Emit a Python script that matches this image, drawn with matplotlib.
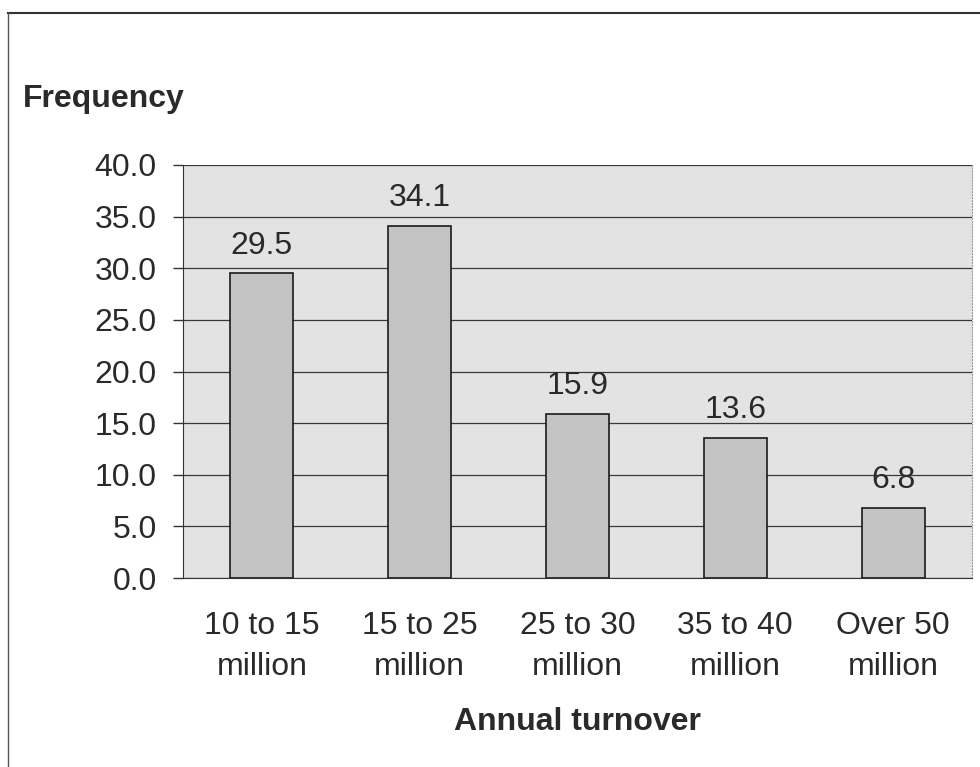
import matplotlib
matplotlib.use('Agg')
from matplotlib import pyplot as plt
from matplotlib.lines import Line2D
import numpy as np

# Data
categories = ['10 to 15\nmillion', '15 to 25\nmillion', '25 to 30\nmillion',
              '35 to 40\nmillion', 'Over 50\nmillion']
frequency = [29.5, 34.1, 15.9, 13.6, 6.8]
y_ticks = [0, 5, 10, 15, 20, 25, 30, 35, 40]

plt.rcParams['font.family'] = ['Liberation Sans', 'DejaVu Sans']
text_col = '#2a2a2a'
fs = 23

fig = plt.figure(figsize=(9.8, 7.67), dpi=100)
ax = fig.add_axes([183 / 980, 1 - 578 / 767, 789 / 980, 413 / 767])
ax.set_facecolor('#e3e3e3')

x = np.arange(len(categories))
bars = ax.bar(x, frequency, width=0.4, color='#c3c3c3', edgecolor='#1a1a1a',
              linewidth=1.2, zorder=3)
for xi, v in zip(x, frequency):
    ax.annotate('{:.1f}'.format(v), (xi, v), xytext=(0, 9), textcoords='offset points',
                ha='center', va='bottom', fontsize=fs, color=text_col)

ax.set_xlim(-0.5, len(categories) - 0.5)
ax.set_ylim(0, 40)
ax.set_yticks(y_ticks)
ax.set_yticklabels(['{:.1f}'.format(t) for t in y_ticks])
ax.yaxis.grid(True, color='#3a3a3a', linewidth=0.9, zorder=1)
ax.set_axisbelow(True)
ax.set_xticks(x)
ax.set_xticklabels(categories, linespacing=1.45)
ax.tick_params(axis='x', length=0, pad=24, labelsize=fs, labelcolor=text_col)
ax.tick_params(axis='y', length=7, width=1, color='#333333', pad=12,
               labelsize=fs, labelcolor=text_col)

ax.spines['top'].set_visible(False)
ax.spines['right'].set_color('#999999')
ax.spines['right'].set_linestyle(':')
ax.spines['left'].set_color('#333333')
ax.spines['bottom'].set_color('#333333')

ax.set_xlabel('Annual turnover', fontsize=fs, fontweight='bold', color=text_col, labelpad=18)
fig.text(23 / 980, 1 - 107 / 767, 'Frequency', fontsize=fs, fontweight='bold',
         color=text_col, ha='left', va='baseline')

# outer frame of the scanned chart
fig.add_artist(Line2D([8 / 980, 1.0], [1 - 13 / 767, 1 - 13 / 767],
                      transform=fig.transFigure, color='#333333', linewidth=1.5))
fig.add_artist(Line2D([8 / 980, 8 / 980], [0, 1 - 13 / 767],
                      transform=fig.transFigure, color='#555555', linewidth=1.0))

fig.savefig('out.png', dpi=100)
